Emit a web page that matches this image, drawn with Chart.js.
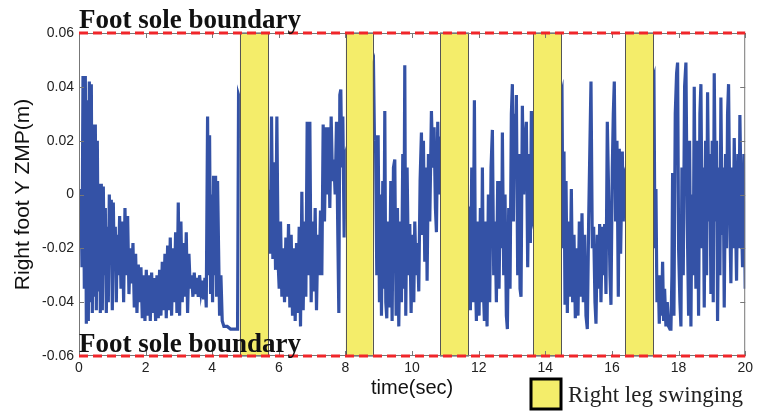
<!DOCTYPE html>
<html>
<head>
<meta charset="utf-8">
<script src="https://cdn.jsdelivr.net/npm/chart.js@4"></script>
<style>
  html, body { margin: 0; padding: 0; background: #fff; }
  #zmpChart { display: block; }
</style>
</head>
<body>
<canvas id="zmpChart" width="757" height="412"></canvas>
<script>
// time (sec) and right foot Y ZMP (m)
const timeSec = [
  0.00, 0.03, 0.06, 0.09, 0.12, 0.16, 0.19, 0.22, 0.25, 0.28, 0.31, 0.34, 0.37, 0.40, 0.43, 0.46, 0.49, 0.52, 0.55, 0.58,
  0.61, 0.64, 0.67, 0.70, 0.73, 0.76, 0.79, 0.82, 0.85, 0.88, 0.91, 0.94, 0.97, 1.00, 1.03, 1.06, 1.09, 1.12, 1.15, 1.18,
  1.22, 1.26, 1.30, 1.34, 1.38, 1.42, 1.46, 1.50, 1.54, 1.58, 1.62, 1.66, 1.70, 1.74, 1.78, 1.82, 1.86, 1.90, 1.94, 1.98,
  2.02, 2.06, 2.10, 2.14, 2.18, 2.22, 2.26, 2.30, 2.34, 2.38, 2.42, 2.46, 2.50, 2.54, 2.58, 2.62, 2.66, 2.70, 2.74, 2.78,
  2.82, 2.86, 2.90, 2.94, 2.98, 3.02, 3.06, 3.10, 3.14, 3.18, 3.22, 3.26, 3.30, 3.34, 3.38, 3.42, 3.46, 3.50, 3.54, 3.58,
  3.62, 3.66, 3.70, 3.74, 3.78, 3.82, 3.86, 3.89, 3.92, 3.95, 3.98, 4.01, 4.04, 4.07, 4.10, 4.13, 4.16, 4.19, 4.22, 4.26,
  4.30, 4.35, 4.45, 4.55, 4.70, 4.76, 4.79,
  5.70, 5.74, 5.78, 5.82, 5.86, 5.90, 5.94, 5.98, 6.01, 6.05, 6.09, 6.13, 6.17, 6.21, 6.25, 6.29, 6.33, 6.37, 6.41, 6.45,
  6.49, 6.53, 6.57, 6.61, 6.65, 6.69, 6.73, 6.77, 6.81, 6.85, 6.89, 6.93, 6.97, 7.01, 7.05, 7.09, 7.13, 7.17, 7.21, 7.25,
  7.29, 7.33, 7.37, 7.41, 7.45, 7.49, 7.53, 7.57, 7.61, 7.65, 7.69, 7.73, 7.77, 7.80, 7.83, 7.86, 7.89, 7.92, 7.96, 7.99,
  8.84, 8.87, 8.90, 8.94, 8.98, 9.02, 9.05, 9.08, 9.12, 9.15, 9.18, 9.21, 9.24, 9.28, 9.32, 9.36, 9.40, 9.44, 9.48, 9.52,
  9.56, 9.60, 9.64, 9.68, 9.72, 9.75, 9.78, 9.81, 9.85, 9.89, 9.93, 9.97, 10.01, 10.05, 10.08, 10.12, 10.16, 10.20, 10.24, 10.28,
  10.31, 10.34, 10.38, 10.42, 10.45, 10.49, 10.53, 10.58, 10.62, 10.66, 10.70, 10.73, 10.77, 10.80, 10.83,
  11.72, 11.75, 11.79, 11.83, 11.87, 11.90, 11.93, 11.97, 12.01, 12.05, 12.08, 12.11, 12.14, 12.17, 12.21, 12.25, 12.29, 12.33, 12.37, 12.41,
  12.45, 12.49, 12.53, 12.57, 12.61, 12.65, 12.69, 12.71, 12.75, 12.79, 12.83, 12.86, 12.90, 12.94, 12.98, 13.01, 13.04, 13.07, 13.10, 13.13,
  13.17, 13.21, 13.24, 13.27, 13.31, 13.35, 13.39, 13.43, 13.47, 13.51, 13.55, 13.58, 13.61,
  14.50, 14.53, 14.56, 14.59, 14.62, 14.66, 14.70, 14.74, 14.78, 14.82, 14.86, 14.90, 14.94, 14.98, 15.02, 15.06, 15.10, 15.14, 15.18, 15.22,
  15.26, 15.30, 15.34, 15.37, 15.41, 15.45, 15.49, 15.52, 15.56, 15.60, 15.63, 15.67, 15.71, 15.75, 15.78, 15.82, 15.86, 15.90, 15.94, 15.97,
  16.01, 16.04, 16.07, 16.11, 16.15, 16.19, 16.22, 16.26, 16.31, 16.34, 16.38,
  17.26, 17.29, 17.32, 17.35, 17.39, 17.42, 17.46, 17.49, 17.52, 17.55, 17.58, 17.62, 17.66, 17.70, 17.74, 17.77, 17.80, 17.82, 17.86, 17.90,
  17.94, 17.97, 18.00, 18.04, 18.07, 18.10, 18.14, 18.18, 18.22, 18.26, 18.30, 18.33, 18.37, 18.40, 18.44, 18.47, 18.50, 18.52, 18.56, 18.60,
  18.64, 18.67, 18.71, 18.74, 18.77, 18.81, 18.84, 18.87, 18.91, 18.94, 18.97, 19.01, 19.04, 19.07, 19.11, 19.14, 19.17, 19.21, 19.24, 19.27,
  19.31, 19.34, 19.37, 19.41, 19.44, 19.47, 19.50, 19.54, 19.57, 19.61, 19.64, 19.67, 19.71, 19.74, 19.78, 19.81, 19.84, 19.88, 19.92, 19.96,
  20.00
];
const zmpY = [
  0.000, -0.020, 0.002, -0.027, 0.044, -0.035, 0.044, -0.048, 0.035, -0.047, 0.042, -0.040, 0.041, -0.044, 0.026, -0.038, 0.026, -0.043, 0.020, -0.036,
  0.004, -0.044, 0.004, -0.043, 0.003, -0.030, -0.005, -0.044, -0.012, -0.040, 0.000, -0.025, -0.002, -0.043, -0.003, -0.028, -0.012, -0.040, -0.015, -0.030,
  -0.008, -0.035, -0.010, -0.040, -0.005, -0.030, -0.008, -0.037, -0.020, -0.033, -0.018, -0.042, -0.022, -0.044, -0.026, -0.040, -0.027, -0.046, -0.030, -0.047,
  -0.028, -0.045, -0.030, -0.047, -0.029, -0.044, -0.031, -0.047, -0.030, -0.046, -0.028, -0.045, -0.025, -0.043, -0.022, -0.046, -0.019, -0.043, -0.016, -0.045,
  -0.020, -0.040, -0.014, -0.044, -0.003, -0.045, -0.010, -0.040, -0.018, -0.038, -0.014, -0.044, -0.022, -0.035, -0.030, -0.038, -0.029, -0.037, -0.031, -0.038,
  -0.030, -0.036, -0.032, -0.039, -0.031, -0.042, 0.029, -0.030, 0.022, -0.037, 0.000, -0.040, 0.007, -0.030, 0.007, -0.038, 0.005, -0.020, -0.045, -0.030,
  -0.047, -0.049, -0.049, -0.050, -0.050, -0.050, 0.037,
  0.000, -0.022, 0.029, -0.024, 0.012, -0.028, 0.029, -0.026, -0.035, -0.010, -0.038, -0.020, -0.040, -0.016, -0.038, -0.011, -0.042, -0.015, -0.045, -0.020,
  -0.047, -0.018, -0.044, -0.012, -0.049, 0.001, -0.043, -0.010, -0.038, 0.027, -0.030, 0.027, -0.040, -0.010, -0.036, -0.005, -0.043, -0.015, -0.030, -0.006,
  -0.030, 0.026, -0.010, 0.025, 0.000, 0.025, -0.005, 0.029, 0.005, 0.013, 0.000, 0.027, -0.015, -0.044, 0.037, 0.039, 0.010, 0.029, -0.016, 0.015,
  0.049, 0.020, 0.022, -0.030, 0.022, -0.040, 0.000, -0.045, 0.005, -0.035, 0.031, -0.040, -0.046, -0.010, -0.042, 0.005, -0.047, 0.010, 0.013, -0.045,
  -0.005, -0.049, -0.010, -0.040, 0.015, -0.035, 0.048, -0.045, 0.010, -0.030, -0.011, -0.044, -0.015, -0.040, -0.010, -0.030, -0.018, -0.036, 0.005, 0.023,
  -0.015, 0.020, -0.025, 0.010, -0.032, 0.015, -0.010, 0.031, 0.010, 0.025, -0.005, -0.014, 0.027, 0.000, 0.020,
  -0.006, -0.043, 0.010, -0.040, 0.035, -0.030, -0.047, -0.010, -0.045, -0.005, -0.040, 0.010, -0.035, -0.047, -0.010, -0.049, 0.000, -0.040, 0.010, 0.024,
  -0.030, -0.010, -0.040, 0.005, -0.035, 0.005, -0.020, 0.023, -0.030, 0.000, -0.045, -0.050, -0.005, -0.035, 0.030, 0.041, -0.010, 0.030, 0.010, 0.037,
  -0.030, 0.015, -0.035, -0.038, 0.033, 0.000, 0.020, 0.027, -0.027, 0.015, -0.018, 0.031, -0.010,
  0.038, -0.020, 0.016, -0.041, 0.005, -0.044, -0.010, -0.038, 0.002, -0.040, -0.015, -0.046, -0.020, -0.045, -0.010, -0.038, -0.007, -0.040, -0.015, -0.045,
  -0.050, -0.010, 0.020, 0.042, -0.020, -0.012, -0.040, -0.048, -0.015, -0.035, -0.011, -0.040, -0.012, -0.030, -0.011, -0.037, 0.027, 0.000, -0.030, -0.041,
  0.010, 0.030, 0.042, -0.010, 0.020, -0.038, 0.017, -0.022, 0.016, -0.010, 0.008,
  0.044, -0.020, 0.002, -0.040, -0.030, -0.048, -0.030, -0.045, -0.025, -0.047, -0.035, -0.049, -0.040, -0.049, -0.050, -0.050, -0.030, 0.008, -0.045, 0.030,
  0.045, 0.049, -0.020, -0.040, -0.049, 0.010, -0.030, 0.040, 0.049, -0.010, -0.045, 0.020, -0.049, 0.000, -0.030, 0.040, -0.010, -0.035, 0.020, -0.045,
  0.030, 0.041, -0.020, 0.010, -0.042, 0.020, -0.030, 0.038, -0.010, 0.015, -0.037, 0.020, -0.040, 0.045, -0.010, 0.020, -0.047, 0.010, -0.030, 0.036,
  -0.015, 0.010, -0.042, 0.015, -0.020, 0.030, 0.041, -0.010, -0.033, 0.010, -0.020, 0.021, -0.010, -0.032, 0.015, -0.020, 0.0295, -0.005, -0.027, 0.015,
  -0.035
];

// right leg swinging intervals (sec)
const swingStart = [4.83, 8.01, 10.85, 13.63, 16.40];
const swingEnd = [5.68, 8.82, 11.70, 14.47, 17.25];

const soleBoundary = [0.06, -0.06];
const xTicks = [0, 2, 4, 6, 8, 10, 12, 14, 16, 18, 20];
const yTicks = [-0.06, -0.04, -0.02, 0, 0.02, 0.04, 0.06];

const BLUE = '#3452a6';
const YELLOW = '#f4ed6a';

const overlay = {
    id: 'overlay',
    afterDatasetsDraw(chart) {
        const { ctx, chartArea: a, scales: { x, y } } = chart;
        ctx.save();

        // swing bands cover the trace
        swingStart.forEach((s, i) => {
            const x0 = x.getPixelForValue(s);
            const x1 = x.getPixelForValue(swingEnd[i]);
            ctx.fillStyle = YELLOW;
            ctx.fillRect(x0, a.top, x1 - x0, a.bottom - a.top);
            ctx.strokeStyle = '#555';
            ctx.lineWidth = 1;
            ctx.strokeRect(Math.round(x0) + 0.5, a.top, Math.round(x1 - x0), a.bottom - a.top);
        });

        // frame
        ctx.strokeStyle = '#777';
        ctx.lineWidth = 1;
        ctx.strokeRect(a.left + 0.5, a.top + 0.5, a.right - a.left - 1, a.bottom - a.top - 1);

        // inward ticks
        ctx.beginPath();
        xTicks.forEach(t => {
            const px = Math.round(x.getPixelForValue(t)) + 0.5;
            ctx.moveTo(px, a.top); ctx.lineTo(px, a.top + 5);
            ctx.moveTo(px, a.bottom); ctx.lineTo(px, a.bottom - 5);
        });
        yTicks.forEach(t => {
            const py = Math.round(y.getPixelForValue(t)) + 0.5;
            ctx.moveTo(a.left, py); ctx.lineTo(a.left + 5, py);
            ctx.moveTo(a.right, py); ctx.lineTo(a.right - 5, py);
        });
        ctx.stroke();

        // foot sole boundary lines
        ctx.strokeStyle = '#f0262a';
        ctx.lineWidth = 3;
        ctx.setLineDash([9, 5]);
        soleBoundary.forEach(v => {
            const py = y.getPixelForValue(v);
            ctx.beginPath();
            ctx.moveTo(a.left, py);
            ctx.lineTo(a.right, py);
            ctx.stroke();
        });
        ctx.setLineDash([]);

        ctx.fillStyle = '#111';
        ctx.font = 'bold 27px "Liberation Serif", "DejaVu Serif", serif';
        ctx.textAlign = 'left';
        ctx.textBaseline = 'alphabetic';
        ctx.fillText('Foot sole boundary', a.left, y.getPixelForValue(0.06) - 5);
        ctx.fillText('Foot sole boundary', a.left, y.getPixelForValue(-0.06) - 4);
        ctx.restore();
    },
    afterDraw(chart) {
        const { ctx } = chart;
        ctx.save();
        // legend box
        ctx.fillStyle = YELLOW;
        ctx.fillRect(531, 379, 30, 30);
        ctx.strokeStyle = '#000';
        ctx.lineWidth = 3;
        ctx.strokeRect(531, 379, 30, 30);
        ctx.fillStyle = '#222';
        ctx.font = '23px "Liberation Serif", "DejaVu Serif", serif';
        ctx.textAlign = 'left';
        ctx.textBaseline = 'alphabetic';
        ctx.fillText('Right leg swinging', 568, 402);
        ctx.restore();
    }
};

const ctx = document.getElementById('zmpChart').getContext('2d');
const zmpChart = new Chart(ctx, {
    type: 'line',
    data: {
        datasets: [{
            label: 'Right foot Y ZMP',
            data: timeSec.map((t, i) => ({ x: t, y: zmpY[i] })),
            borderColor: BLUE,
            borderWidth: 3.2,
            pointRadius: 0,
            tension: 0,
            fill: false
        }]
    },
    options: {
        responsive: false,
        animation: false,
        layout: { padding: { top: 33, right: 11, left: 0, bottom: 0 } },
        plugins: {
            legend: { display: false },
            tooltip: { enabled: false }
        },
        scales: {
            x: {
                type: 'linear',
                min: 0,
                max: 20,
                afterBuildTicks: s => { s.ticks = xTicks.map(v => ({ value: v })); },
                afterFit: s => { s.height = 56; },
                grid: { display: false, drawTicks: false },
                border: { display: false },
                ticks: {
                    padding: 4,
                    color: '#222',
                    font: { family: '"Liberation Sans", Arial, sans-serif', size: 14 },
                    maxRotation: 0
                },
                title: {
                    display: true,
                    text: 'time(sec)',
                    color: '#111',
                    padding: { top: 0, bottom: 12 },
                    font: { family: '"Liberation Sans", Arial, sans-serif', size: 20 }
                }
            },
            y: {
                min: -0.06,
                max: 0.06,
                afterBuildTicks: s => { s.ticks = yTicks.map(v => ({ value: v })); },
                afterFit: s => { s.width = 79; },
                grid: { display: false, drawTicks: false },
                border: { display: false },
                ticks: {
                    padding: 5,
                    color: '#222',
                    font: { family: '"Liberation Sans", Arial, sans-serif', size: 14 },
                    callback: v => v === 0 ? '0' : v.toFixed(2)
                },
                title: {
                    display: true,
                    text: 'Right foot Y ZMP(m)',
                    color: '#111',
                    padding: { top: 11, bottom: 2 },
                    font: { family: '"Liberation Sans", Arial, sans-serif', size: 21 }
                }
            }
        }
    },
    plugins: [overlay]
});
</script>
</body>
</html>
